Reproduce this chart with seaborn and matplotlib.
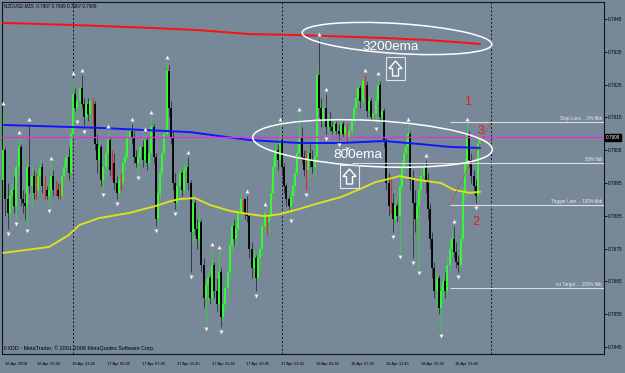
import numpy as np
import pandas as pd
import matplotlib
matplotlib.use("Agg")
import matplotlib.pyplot as plt
import seaborn as sns
from matplotlib.patches import Ellipse, Rectangle, Polygon
from matplotlib.transforms import offset_copy, blended_transform_factory, ScaledTranslation

# ---------------- data (NZDUSD, M15) ----------------
symbol = "NZDUSD,M15"

opens = [
    0.7896, 0.7905, 0.7890, 0.7886, 0.7891, 0.7893, 0.7888, 0.7900, 0.7906, 0.7890,
    0.7889, 0.7888, 0.7900, 0.7894, 0.7897, 0.7893, 0.7893, 0.7897, 0.7900, 0.7893,
    0.7893, 0.7891, 0.7893, 0.7897, 0.7893, 0.7893, 0.7891, 0.7891, 0.7897, 0.7900,
    0.7903, 0.7898, 0.7910, 0.7922, 0.7918, 0.7920, 0.7924, 0.7919, 0.7915, 0.7919,
    0.7916, 0.7919, 0.7919, 0.7907, 0.7902, 0.7906, 0.7896, 0.7900, 0.7904, 0.7908,
    0.7901, 0.7901, 0.7895, 0.7892, 0.7895, 0.7895, 0.7901, 0.7903, 0.7909, 0.7911,
    0.7909, 0.7903, 0.7901, 0.7903, 0.7906, 0.7902, 0.7908, 0.7901, 0.7904, 0.7912,
    0.7903, 0.7884, 0.7892, 0.7898, 0.7904, 0.7910, 0.7929, 0.7918, 0.7909, 0.7895,
    0.7889, 0.7894, 0.7898, 0.7893, 0.7899, 0.7900, 0.7895, 0.7880, 0.7889, 0.7881,
    0.7878, 0.7883, 0.7870, 0.7860, 0.7864, 0.7866, 0.7860, 0.7870, 0.7862, 0.7858,
    0.7868, 0.7854, 0.7858, 0.7863, 0.7868, 0.7876, 0.7882, 0.7878, 0.7881, 0.7886,
    0.7890, 0.7890, 0.7886, 0.7885, 0.7875, 0.7869, 0.7872, 0.7866, 0.7872, 0.7875,
    0.7882, 0.7885, 0.7883, 0.7885, 0.7892, 0.7900, 0.7905, 0.7902, 0.7908, 0.7900,
    0.7894, 0.7890, 0.7888, 0.7891, 0.7894, 0.7898, 0.7904, 0.7909, 0.7903, 0.7899,
    0.7899, 0.7904, 0.7902, 0.7900, 0.7903, 0.7928, 0.7918, 0.7914, 0.7918, 0.7912,
    0.7914, 0.7912, 0.7911, 0.7913, 0.7911, 0.7910, 0.7913, 0.7910, 0.7911, 0.7909,
    0.7911, 0.7914, 0.7918, 0.7921, 0.7924, 0.7920, 0.7926, 0.7925, 0.7917, 0.7920,
    0.7915, 0.7916, 0.7920, 0.7925, 0.7915, 0.7917, 0.7908, 0.7895, 0.7889, 0.7889,
    0.7884, 0.7888, 0.7885, 0.7894, 0.7900, 0.7904, 0.7906, 0.7910, 0.7896, 0.7889,
    0.7884, 0.7888, 0.7893, 0.7897, 0.7900, 0.7896, 0.7887, 0.7878, 0.7869, 0.7862,
    0.7866, 0.7857, 0.7862, 0.7865, 0.7862, 0.7870, 0.7875, 0.7878, 0.7874, 0.7871,
    0.7870, 0.7878, 0.7892, 0.7901, 0.7910, 0.7902, 0.7897, 0.7894, 0.7891, 0.7907,
]
highs = [
    0.7918, 0.7906, 0.7895, 0.7893, 0.7895, 0.7897, 0.7903, 0.7909, 0.7907, 0.7893,
    0.7892, 0.7902, 0.7913, 0.7900, 0.7899, 0.7898, 0.7899, 0.7902, 0.7901, 0.7897,
    0.7894, 0.7895, 0.7901, 0.7899, 0.7896, 0.7895, 0.7895, 0.7898, 0.7902, 0.7904,
    0.7906, 0.7912, 0.7927, 0.7924, 0.7921, 0.7925, 0.7928, 0.7921, 0.7920, 0.7921,
    0.7921, 0.7921, 0.7920, 0.7910, 0.7908, 0.7907, 0.7902, 0.7906, 0.7911, 0.7909,
    0.7905, 0.7904, 0.7897, 0.7898, 0.7898, 0.7903, 0.7905, 0.7911, 0.7912, 0.7913,
    0.7911, 0.7905, 0.7904, 0.7907, 0.7908, 0.7910, 0.7909, 0.7906, 0.7915, 0.7913,
    0.7904, 0.7894, 0.7900, 0.7906, 0.7912, 0.7932, 0.7931, 0.7920, 0.7911, 0.7898,
    0.7896, 0.7900, 0.7899, 0.7901, 0.7901, 0.7903, 0.7896, 0.7892, 0.7890, 0.7884,
    0.7886, 0.7884, 0.7872, 0.7866, 0.7868, 0.7867, 0.7875, 0.7871, 0.7866, 0.7874,
    0.7869, 0.7860, 0.7865, 0.7870, 0.7878, 0.7884, 0.7884, 0.7883, 0.7888, 0.7892,
    0.7890, 0.7890, 0.7891, 0.7886, 0.7877, 0.7875, 0.7873, 0.7874, 0.7876, 0.7884,
    0.7887, 0.7886, 0.7886, 0.7894, 0.7903, 0.7908, 0.7907, 0.7913, 0.7909, 0.7901,
    0.7895, 0.7891, 0.7893, 0.7896, 0.7900, 0.7906, 0.7916, 0.7912, 0.7905, 0.7905,
    0.7906, 0.7907, 0.7905, 0.7904, 0.7930, 0.7939, 0.7921, 0.7920, 0.7922, 0.7916,
    0.7917, 0.7914, 0.7915, 0.7914, 0.7913, 0.7914, 0.7914, 0.7913, 0.7913, 0.7912,
    0.7915, 0.7919, 0.7923, 0.7926, 0.7925, 0.7927, 0.7928, 0.7926, 0.7922, 0.7921,
    0.7917, 0.7922, 0.7927, 0.7926, 0.7918, 0.7918, 0.7909, 0.7898, 0.7897, 0.7892,
    0.7890, 0.7889, 0.7898, 0.7902, 0.7906, 0.7910, 0.7913, 0.7911, 0.7899, 0.7893,
    0.7890, 0.7895, 0.7899, 0.7901, 0.7902, 0.7898, 0.7889, 0.7880, 0.7871, 0.7868,
    0.7867, 0.7864, 0.7867, 0.7868, 0.7872, 0.7878, 0.7880, 0.7882, 0.7877, 0.7873,
    0.7880, 0.7894, 0.7903, 0.7913, 0.7911, 0.7904, 0.7899, 0.7896, 0.7908, 0.7909,
]
lows = [
    0.7890, 0.7885, 0.7881, 0.7884, 0.7887, 0.7886, 0.7884, 0.7897, 0.7888, 0.7886,
    0.7884, 0.7882, 0.7892, 0.7888, 0.7890, 0.7890, 0.7891, 0.7894, 0.7892, 0.7890,
    0.7890, 0.7888, 0.7891, 0.7891, 0.7891, 0.7890, 0.7890, 0.7890, 0.7896, 0.7899,
    0.7896, 0.7897, 0.7909, 0.7917, 0.7915, 0.7918, 0.7918, 0.7912, 0.7914, 0.7914,
    0.7914, 0.7913, 0.7905, 0.7898, 0.7901, 0.7894, 0.7893, 0.7897, 0.7900, 0.7897,
    0.7896, 0.7893, 0.7890, 0.7891, 0.7893, 0.7894, 0.7899, 0.7902, 0.7906, 0.7907,
    0.7901, 0.7900, 0.7898, 0.7901, 0.7900, 0.7901, 0.7899, 0.7900, 0.7903, 0.7901,
    0.7882, 0.7883, 0.7890, 0.7896, 0.7902, 0.7909, 0.7915, 0.7907, 0.7893, 0.7887,
    0.7888, 0.7892, 0.7891, 0.7892, 0.7896, 0.7893, 0.7868, 0.7877, 0.7879, 0.7875,
    0.7876, 0.7868, 0.7857, 0.7852, 0.7858, 0.7858, 0.7859, 0.7860, 0.7856, 0.7857,
    0.7851, 0.7853, 0.7856, 0.7861, 0.7866, 0.7874, 0.7876, 0.7876, 0.7880, 0.7884,
    0.7886, 0.7884, 0.7883, 0.7872, 0.7866, 0.7866, 0.7862, 0.7865, 0.7869, 0.7873,
    0.7880, 0.7879, 0.7880, 0.7884, 0.7890, 0.7898, 0.7899, 0.7900, 0.7898, 0.7892,
    0.7888, 0.7887, 0.7885, 0.7889, 0.7892, 0.7897, 0.7903, 0.7901, 0.7897, 0.7893,
    0.7896, 0.7900, 0.7898, 0.7897, 0.7902, 0.7915, 0.7912, 0.7913, 0.7910, 0.7911,
    0.7911, 0.7910, 0.7910, 0.7910, 0.7908, 0.7909, 0.7909, 0.7909, 0.7907, 0.7908,
    0.7909, 0.7913, 0.7916, 0.7919, 0.7918, 0.7919, 0.7921, 0.7915, 0.7915, 0.7914,
    0.7914, 0.7913, 0.7919, 0.7914, 0.7913, 0.7906, 0.7893, 0.7885, 0.7886, 0.7880,
    0.7882, 0.7883, 0.7874, 0.7892, 0.7898, 0.7902, 0.7902, 0.7893, 0.7872, 0.7880,
    0.7878, 0.7869, 0.7890, 0.7895, 0.7892, 0.7884, 0.7875, 0.7866, 0.7860, 0.7858,
    0.7855, 0.7850, 0.7858, 0.7860, 0.7861, 0.7868, 0.7872, 0.7872, 0.7869, 0.7868,
    0.7869, 0.7877, 0.7890, 0.7898, 0.7900, 0.7895, 0.7892, 0.7889, 0.7890, 0.7907,
]
closes = [
    0.7905, 0.7890, 0.7886, 0.7891, 0.7893, 0.7888, 0.7900, 0.7906, 0.7890, 0.7889,
    0.7888, 0.7900, 0.7894, 0.7897, 0.7892, 0.7893, 0.7897, 0.7900, 0.7894, 0.7893,
    0.7891, 0.7893, 0.7897, 0.7893, 0.7893, 0.7891, 0.7891, 0.7897, 0.7900, 0.7903,
    0.7898, 0.7910, 0.7922, 0.7918, 0.7920, 0.7924, 0.7919, 0.7915, 0.7919, 0.7916,
    0.7920, 0.7919, 0.7907, 0.7902, 0.7906, 0.7896, 0.7900, 0.7904, 0.7908, 0.7899,
    0.7901, 0.7895, 0.7892, 0.7896, 0.7895, 0.7901, 0.7903, 0.7909, 0.7911, 0.7909,
    0.7903, 0.7901, 0.7903, 0.7906, 0.7902, 0.7908, 0.7901, 0.7904, 0.7912, 0.7903,
    0.7884, 0.7892, 0.7898, 0.7904, 0.7910, 0.7929, 0.7918, 0.7909, 0.7895, 0.7889,
    0.7894, 0.7898, 0.7893, 0.7899, 0.7900, 0.7895, 0.7880, 0.7889, 0.7881, 0.7878,
    0.7883, 0.7870, 0.7860, 0.7864, 0.7866, 0.7860, 0.7870, 0.7862, 0.7858, 0.7868,
    0.7854, 0.7858, 0.7863, 0.7868, 0.7876, 0.7882, 0.7878, 0.7881, 0.7886, 0.7890,
    0.7890, 0.7886, 0.7885, 0.7875, 0.7869, 0.7872, 0.7866, 0.7872, 0.7875, 0.7882,
    0.7886, 0.7885, 0.7885, 0.7892, 0.7900, 0.7905, 0.7902, 0.7908, 0.7900, 0.7894,
    0.7890, 0.7888, 0.7891, 0.7894, 0.7898, 0.7904, 0.7909, 0.7903, 0.7899, 0.7899,
    0.7904, 0.7902, 0.7900, 0.7903, 0.7928, 0.7918, 0.7914, 0.7918, 0.7912, 0.7914,
    0.7912, 0.7911, 0.7913, 0.7911, 0.7910, 0.7913, 0.7910, 0.7912, 0.7911, 0.7911,
    0.7914, 0.7918, 0.7921, 0.7924, 0.7920, 0.7926, 0.7926, 0.7917, 0.7920, 0.7915,
    0.7916, 0.7920, 0.7925, 0.7915, 0.7917, 0.7908, 0.7895, 0.7888, 0.7889, 0.7884,
    0.7888, 0.7885, 0.7894, 0.7900, 0.7904, 0.7906, 0.7910, 0.7896, 0.7889, 0.7884,
    0.7888, 0.7893, 0.7897, 0.7900, 0.7896, 0.7887, 0.7878, 0.7869, 0.7862, 0.7866,
    0.7857, 0.7862, 0.7865, 0.7862, 0.7870, 0.7875, 0.7878, 0.7874, 0.7871, 0.7870,
    0.7878, 0.7892, 0.7901, 0.7910, 0.7902, 0.7897, 0.7894, 0.7891, 0.7907, 0.7909,
]

# Bill Williams fractals (bar indices)
fractal_up_bars = [0, 7, 12, 22, 32, 36, 48, 59, 65, 68, 75, 85, 96, 99, 112, 120,
                   127, 136, 145, 148, 166, 172, 186, 194, 207, 213]
fractal_down_bars = [2, 6, 11, 21, 34, 37, 46, 52, 62, 70, 79, 86, 93, 100, 116, 132,
                     139, 148, 154, 158, 171, 179, 182, 188, 191, 201, 209, 217]

# moving averages (bar index, price)
ema3200_bars = [0, 31, 67, 90, 113, 136, 175, 195, 219]
ema3200_vals = [0.79438, 0.79432, 0.79423, 0.79416, 0.79404, 0.79401, 0.79392, 0.79386, 0.79374]
ema800_bars = [0, 44, 86, 113, 136, 155, 175, 191, 205, 219]
ema800_vals = [0.79127, 0.79118, 0.79105, 0.79081, 0.79072, 0.79072, 0.79078, 0.79069, 0.79060, 0.79057]
ma_yellow_bars = [0, 21, 30, 35, 44, 58, 70, 77, 81, 88, 95, 104, 113, 120, 127, 136, 145,
                  155, 164, 171, 175, 182, 191, 201, 207, 214, 219]
ma_yellow_vals = [0.78737, 0.78755, 0.78791, 0.78822, 0.78843, 0.78859, 0.78880, 0.78895,
                  0.78901, 0.78904, 0.78883, 0.78865, 0.78855, 0.78849, 0.78855, 0.78871,
                  0.78889, 0.78907, 0.78932, 0.78953, 0.78959, 0.78971, 0.78959, 0.78950,
                  0.78929, 0.78920, 0.78923]

# fibonacci levels
fib_levels = [0.79136, 0.79010, 0.78883, 0.78630]
fib_names = ["Stop Loss ... 0% fibb", "50% fibb", "Trigger Line ... 100% fibb",
             "Ist Target ... 200% fibb"]
fib_start_bars = [205, 160, 205, 205]
fib_anchor_bars = [205, 224]

# axes labels
price_ticks = [0.7845, 0.7855, 0.7865, 0.7875, 0.7885, 0.7895, 0.7905, 0.7915, 0.7925, 0.7935, 0.7945]
time_tick_bars = [0, 15, 31, 47, 63, 79, 95, 111, 127, 143, 159, 175, 191, 207]
time_tick_labels = ["16 Apr 2008", "16 Apr 19:45", "16 Apr 23:45", "17 Apr 03:45",
                    "17 Apr 07:45", "17 Apr 11:45", "17 Apr 15:45", "17 Apr 19:45",
                    "17 Apr 23:45", "18 Apr 03:45", "18 Apr 07:45", "18 Apr 11:45",
                    "18 Apr 15:45", "18 Apr 19:45"]
day_separator_bars = [32, 128, 224]

# ---------------- style ----------------
sns.set_style("white")
plt.rcParams['font.family'] = ['DejaVu Sans']
BG = '#778899'
SMALL = ['Liberation Sans', 'DejaVu Sans']
SANS = ['Liberation Sans', 'DejaVu Sans']

W, H = 625, 373
fig = plt.figure(figsize=(W / 100, H / 100), dpi=100, facecolor=BG)
ax = fig.add_axes([2 / W, 19 / H, 602 / W, 352 / H])
ax.set_facecolor(BG)

o = np.array(opens); hi = np.array(highs); lo = np.array(lows); c = np.array(closes)
n = len(c)
idx = np.arange(n)
bull = c > o
bear = c < o
doji = ~(bull | bear)

# day separators
for b in day_separator_bars:
    ax.axvline(b, color='#151515', lw=0.7, ls=(0, (2, 2)), zorder=1)

# candles
wick_col = np.where(bull, '#2fe02f', '#2a2a2a')
m = ~doji
ax.vlines(idx[m], lo[m], hi[m], colors=wick_col[m], linewidth=0.55, zorder=2)
body_col = np.where(bull, '#33ff33', '#000000')
ax.vlines(idx[m], np.minimum(o, c)[m], np.maximum(o, c)[m], colors=body_col[m],
          linewidth=1.3, zorder=3)
ax.vlines(idx[doji], lo[doji], hi[doji], colors='#e02a2a', linewidth=0.8, zorder=3)

# moving averages via seaborn
ma_df = pd.concat([
    pd.DataFrame({'bar': ema3200_bars, 'price': ema3200_vals, 'ma': '3200ema'}),
    pd.DataFrame({'bar': ema800_bars, 'price': ema800_vals, 'ma': '800ema'}),
    pd.DataFrame({'bar': ma_yellow_bars, 'price': ma_yellow_vals, 'ma': 'slow'}),
], ignore_index=True)
sns.lineplot(data=ma_df, x='bar', y='price', hue='ma', estimator=None, legend=False,
             palette={'3200ema': '#ff1010', '800ema': '#1414ff', 'slow': '#dede22'},
             linewidth=1.4, ax=ax, zorder=4)

# bid line
ax.axhline(c[-1], color='#e030e0', lw=0.9, zorder=4)

# fractals
up_tr = offset_copy(ax.transData, fig=fig, x=0, y=5, units='dots')
dn_tr = offset_copy(ax.transData, fig=fig, x=0, y=-5, units='dots')
ax.scatter(fractal_up_bars, hi[fractal_up_bars], marker='^', s=8, c='white',
           edgecolors='#a8a8a8', linewidths=0.3, transform=up_tr, zorder=6)
ax.scatter(fractal_down_bars, lo[fractal_down_bars], marker='v', s=8, c='white',
           edgecolors='#a8a8a8', linewidths=0.3, transform=dn_tr, zorder=6)

XMIN, XMAX = -0.6, 275.9
ax.set_xlim(XMIN, XMAX)
ax.set_ylim(0.784287, 0.795018)

# fibonacci
ax.hlines(fib_levels, fib_start_bars, XMAX, colors='#dedede', lw=0.8, zorder=5)
bt = blended_transform_factory(ax.transAxes, ax.transData)
for lvl, name in zip(fib_levels, fib_names):
    ax.text(0.997, lvl, name, transform=offset_copy(bt, fig=fig, y=1, units='dots'),
            ha='right', va='bottom', fontsize=3.3, family=SMALL, color='#eeeeee', zorder=6)
ax.plot(fib_anchor_bars, [fib_levels[2], fib_levels[0]], color='#d83030', lw=0.7,
        ls=(0, (1.5, 1.5)), zorder=5)

# axes decoration
ax.yaxis.tick_right()
ax.set_yticks(price_ticks)
ax.set_yticklabels([f"{p:.4f}" for p in price_ticks])
ax.tick_params(axis='y', direction='out', length=2, width=0.6, pad=0.6, labelsize=3.4,
               colors='black')
ax.set_xticks(time_tick_bars)
ax.set_xticklabels(time_tick_labels, ha='left')
ax.tick_params(axis='x', direction='out', length=3, width=0.6, pad=3.0, labelsize=3.0,
               colors='black')
shift = ScaledTranslation(1.5 / 100, 0, fig.dpi_scale_trans)
for lab in ax.get_xticklabels():
    lab.set_transform(lab.get_transform() + shift)
    lab.set_family(SMALL)
for lab in ax.get_yticklabels():
    lab.set_family(SMALL)
for sp in ax.spines.values():
    sp.set_color('#141414')
    sp.set_linewidth(0.8)
ax.set_xlabel('')
ax.set_ylabel('')
ax.grid(False)

# current price label
ax.text(1.003, c[-1], f"{c[-1]:.4f}", transform=bt, ha='left', va='center', fontsize=3.4,
        family=SMALL, color='white', zorder=7,
        bbox=dict(boxstyle='square,pad=0.2', fc='black', ec='black'))

# ---------------- annotation overlay (pixel space) ----------------
ov = fig.add_axes([0, 0, 1, 1], zorder=10)
ov.set_xlim(0, W)
ov.set_ylim(H, 0)
ov.axis('off')
ov.patch.set_alpha(0)

ov.text(4, 6, f"{symbol}  {o[-1]:.4f} {hi[-1]:.4f} {lo[-1]:.4f} {c[-1]:.4f}",
        ha='left', va='center', fontsize=3.3, family=SMALL, color='black')
ov.text(4, 348, "FXDD - MetaTrader, \u00a9 2001-2008 MetaQuotes Software Corp.",
        ha='left', va='center', fontsize=3.9, family=SMALL, color='black')

ov.add_patch(Ellipse((397, 38.5), 190, 30, angle=3.6, fill=False, ec='white', lw=1.1))
ov.add_patch(Ellipse((372.5, 143.5), 240, 46, angle=3.0, fill=False, ec='white', lw=1.1))
ov.text(390.5, 47, "3200ema", ha='center', va='center', fontsize=9.7, family=SANS, color='white')
ov.text(358, 155, "800ema", ha='center', va='center', fontsize=9.7, family=SANS, color='white')


def arrow_box(x0, y0, w=19, h=23):
    ov.add_patch(Rectangle((x0, y0), w, h, fill=False, ec='#e4e4e4', lw=0.8))
    cx = x0 + w / 2
    pts = [(cx, y0 + 4), (cx + 6.5, y0 + 11.5), (cx + 3, y0 + 11.5), (cx + 3, y0 + 19),
           (cx - 3, y0 + 19), (cx - 3, y0 + 11.5), (cx - 6.5, y0 + 11.5)]
    ov.add_patch(Polygon(pts, closed=True, fill=False, ec='white', lw=1.0))


arrow_box(386, 57)
arrow_box(340, 165)

for txt, (px, py) in zip(["1", "2", "3"], [(468, 102), (476, 222), (481, 131)]):
    ov.text(px, py, txt, ha='center', va='center', fontsize=9, family=SANS, color='#e41b1b')

fig.savefig("out.png", dpi=100, facecolor=BG)
